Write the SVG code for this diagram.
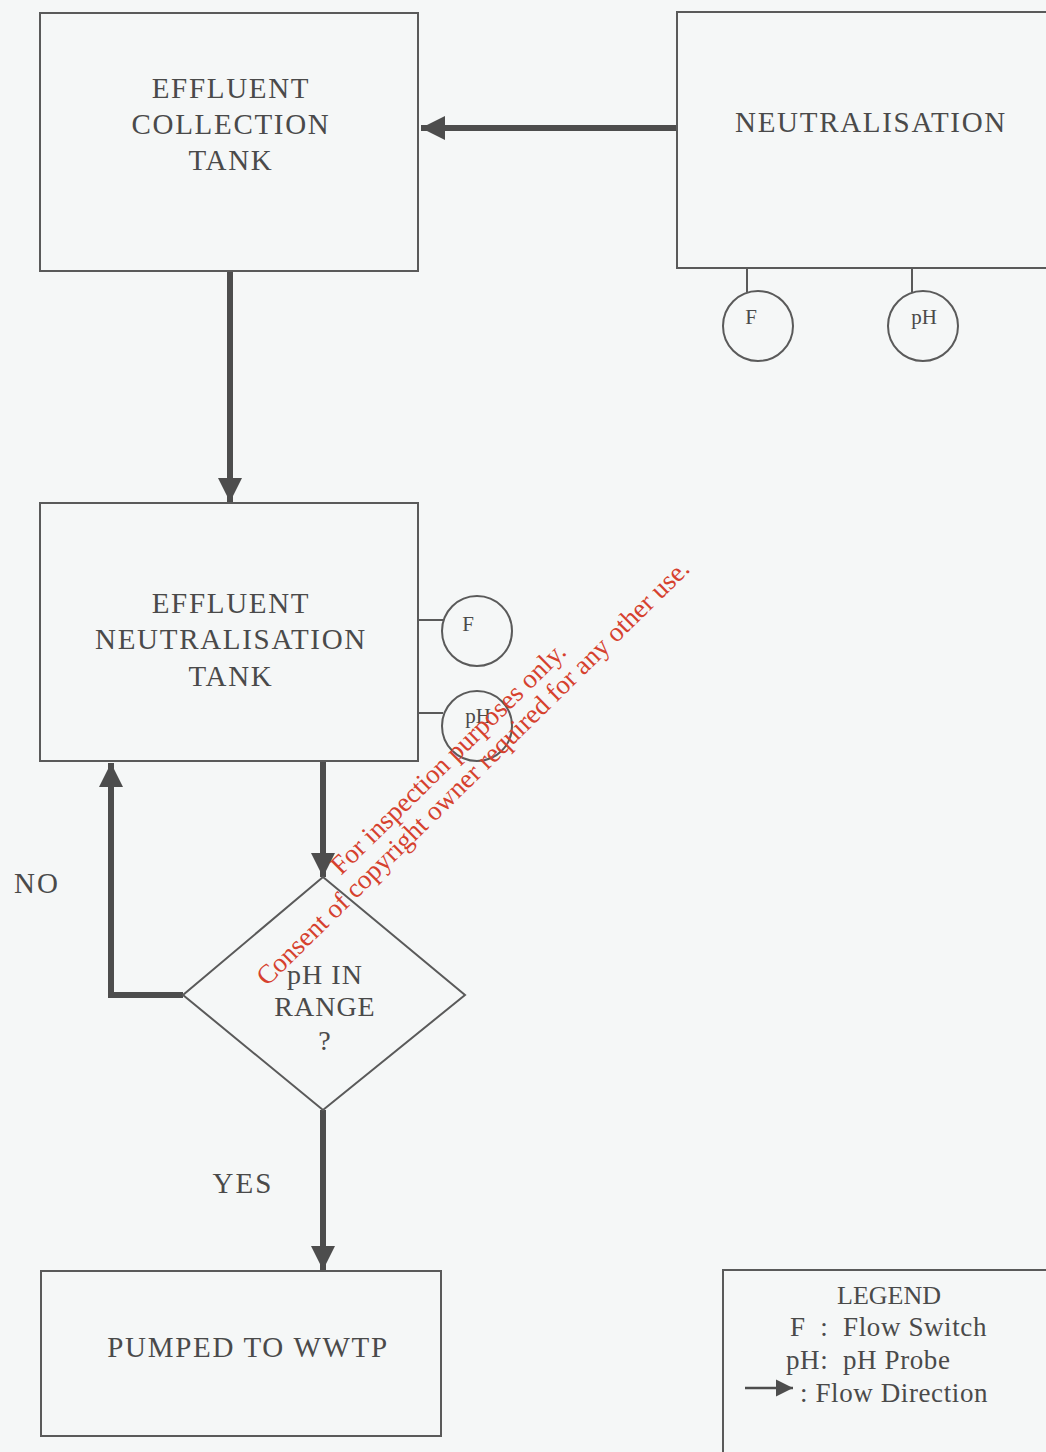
<svg xmlns="http://www.w3.org/2000/svg" width="1046" height="1452" viewBox="0 0 1046 1452">
<defs>
<style>
.box{fill:none;stroke:#5a5a5a;stroke-width:2}
.t{font-family:"Liberation Serif",serif;fill:#4a4a4a;text-anchor:middle}
.big{font-size:29px;letter-spacing:1.7px}
.mid{font-size:28px;letter-spacing:1px}
.sm{font-size:21px}
.lg{font-size:27px;letter-spacing:0.6px;text-anchor:start}
.flow{fill:none;stroke:#4d4d4d;stroke-width:6}
.thin{fill:none;stroke:#5a5a5a;stroke-width:2}
.wm{font-family:"Liberation Serif",serif;fill:#d6412e;font-size:27px}
</style>
<marker id="ah" viewBox="0 0 10 10" refX="10" refY="5" markerWidth="4" markerHeight="4" orient="auto" markerUnits="strokeWidth">
<path d="M0,0 L10,5 L0,10 Z" fill="#4d4d4d"/>
</marker>
<marker id="ahs" viewBox="0 0 10 10" refX="10" refY="5" markerWidth="7" markerHeight="7" orient="auto" markerUnits="strokeWidth">
<path d="M0,0 L10,5 L0,10 Z" fill="#4d4d4d"/>
</marker>
</defs>
<rect width="1046" height="1452" fill="#f5f7f7"/>

<g id="connectors">
<line class="flow" x1="677" y1="128" x2="421" y2="128" marker-end="url(#ah)"/>
<line class="flow" x1="230" y1="271" x2="230" y2="502" marker-end="url(#ah)"/>
<line class="flow" x1="323" y1="761" x2="323" y2="877" marker-end="url(#ah)"/>
<polyline class="flow" points="183,995 111,995 111,763" marker-end="url(#ah)"/>
<line class="flow" x1="323" y1="1110" x2="323" y2="1270" marker-end="url(#ah)"/>
<line class="thin" x1="747" y1="268" x2="747" y2="292"/>
<line class="thin" x1="912" y1="268" x2="912" y2="292"/>
<line class="thin" x1="418" y1="620" x2="443" y2="620"/>
<line class="thin" x1="418" y1="713" x2="443" y2="713"/>
</g>

<g id="collection-tank">
<rect class="box" x="40" y="13" width="378" height="258"/>
<text class="t big" x="231" y="98">EFFLUENT</text>
<text class="t big" x="231" y="134">COLLECTION</text>
<text class="t big" x="231" y="170">TANK</text>
</g>

<g id="neutralisation">
<rect class="box" x="677" y="12" width="380" height="256"/>
<text class="t big" x="871" y="132">NEUTRALISATION</text>
</g>

<g id="flow-switch-1">
<circle class="thin" cx="758" cy="326" r="35"/>
<text class="t sm" x="751" y="324">F</text>
</g>
<g id="ph-probe-1">
<circle class="thin" cx="923" cy="326" r="35"/>
<text class="t sm" x="924" y="324">pH</text>
</g>

<g id="neutralisation-tank">
<rect class="box" x="40" y="503" width="378" height="258"/>
<text class="t big" x="231" y="613">EFFLUENT</text>
<text class="t big" x="231" y="649">NEUTRALISATION</text>
<text class="t big" x="231" y="686">TANK</text>
</g>

<g id="flow-switch-2">
<circle class="thin" cx="477" cy="631" r="35"/>
<text class="t sm" x="468" y="631">F</text>
</g>
<g id="ph-probe-2">
<circle class="thin" cx="477" cy="726" r="35"/>
<text class="t sm" x="478" y="723">pH</text>
</g>

<g id="decision">
<polygon class="thin" points="323,877 465,995 323,1110 183,995"/>
<text class="t mid" x="325" y="984">pH IN</text>
<text class="t mid" x="325" y="1016">RANGE</text>
<text class="t mid" x="325" y="1050">?</text>
</g>

<text class="t mid" style="font-size:29px;letter-spacing:2px" x="37" y="893">NO</text>
<text class="t mid" style="font-size:29px;letter-spacing:2px" x="243" y="1193">YES</text>

<g id="pumped">
<rect class="box" x="41" y="1271" width="400" height="165"/>
<text class="t big" x="248" y="1357">PUMPED TO WWTP</text>
</g>

<g id="legend">
<rect class="box" x="723" y="1270" width="340" height="200"/>
<text class="t" style="font-size:26px" x="889" y="1304">LEGEND</text>
<text class="t lg" x="790" y="1336" xml:space="preserve">F  :  Flow Switch</text>
<text class="t lg" x="786" y="1369" xml:space="preserve">pH:  pH Probe</text>
<line x1="745" y1="1388" x2="793" y2="1388" stroke="#4d4d4d" stroke-width="2.5" marker-end="url(#ahs)"/>
<text class="t lg" x="800" y="1402">: Flow Direction</text>
</g>

<g id="watermark">
<text class="wm" transform="translate(341,876) rotate(-44.5)">For inspection purposes only.</text>
<text class="wm" transform="translate(267,987) rotate(-44.5)">Consent of copyright owner required for any other use.</text>
</g>
</svg>
